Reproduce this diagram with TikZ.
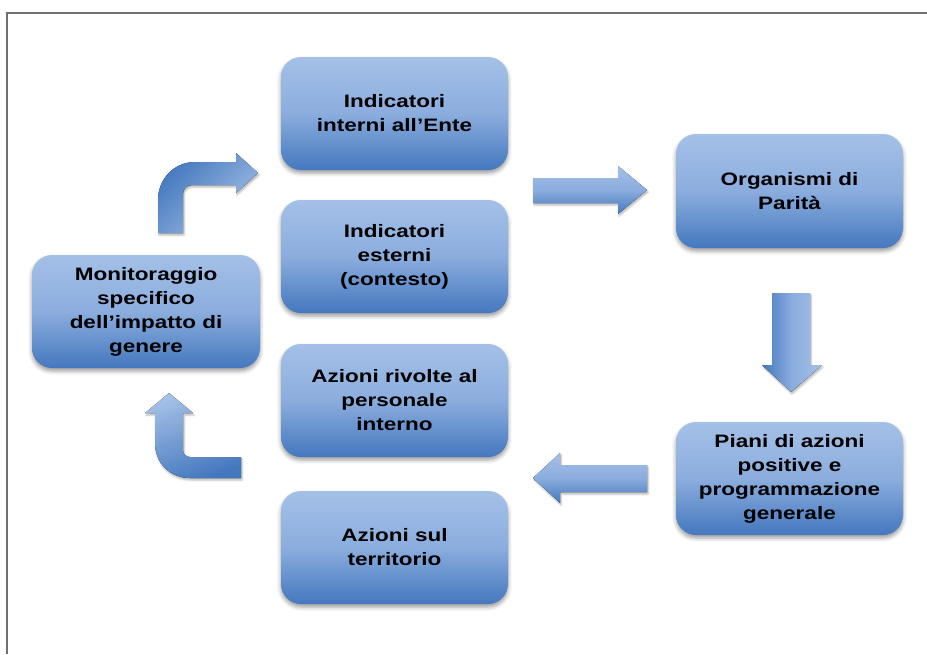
\documentclass[tikz,border=0pt]{standalone}
\usepackage{fontspec}
\newfontfamily\boxfont{Liberation Sans}[FakeStretch=1.25]
\usetikzlibrary{shadows.blur}
\definecolor{bluetop}{HTML}{A4C0E7}
\definecolor{bluemid}{HTML}{8BADDE}
\definecolor{bluebot}{HTML}{4478BE}
\definecolor{framegray}{HTML}{707070}
\begin{document}
\begin{tikzpicture}[x=1pt,y=-1pt,
  boxnode/.style={rectangle, rounded corners=20pt, minimum width=227pt, minimum height=113pt,
    align=center, top color=bluetop, bottom color=bluebot, middle color=bluemid,
    font=\boxfont\bfseries\fontsize{18}{24}\selectfont, text=black,
    blur shadow={shadow xshift=0pt, shadow yshift=-3pt, shadow blur radius=4pt, shadow opacity=40}},
  arrowshape/.style={draw=none,
    blur shadow={shadow xshift=1pt, shadow yshift=-2pt, shadow blur radius=2pt, shadow opacity=30}}]
\useasboundingbox (0,0) rectangle (927,654);
% frame
\draw[framegray, line width=1.5pt] (7,654) -- (7,13) -- (927,13);
% boxes
\node[boxnode] (intern) at (394.5,113.5) {Indicatori\\interni all’Ente};
\node[boxnode] (estern) at (394.5,256.5) {Indicatori\\esterni\\(contesto)};
\node[boxnode] (rivolte) at (394.5,400.5) {Azioni rivolte al\\personale\\interno};
\node[boxnode] (territ) at (394.5,547.5) {Azioni sul\\territorio};
\node[boxnode, minimum width=228pt] (monit) at (146,311.5) {Monitoraggio\\specifico\\dell’impatto di\\genere};
\node[boxnode, minimum height=114pt] (organ) at (789.5,191) {Organismi di\\Parità};
\node[boxnode] (piani) at (789.5,478.5) {Piani di azioni\\positive e\\programmazione\\generale};
% right arrow
\fill[arrowshape, top color=bluetop, bottom color=bluebot, middle color=bluemid]
  (533,178) -- (618,178) -- (618,166) -- (647,190) -- (618,214) -- (618,203) -- (533,203) -- cycle;
% down arrow
\fill[arrowshape, left color=bluebot, right color=bluetop, middle color=bluemid]
  (772,293) -- (810,293) -- (810,365) -- (822,365) -- (791,392) -- (762,365) -- (772,365) -- cycle;
% left arrow
\fill[arrowshape, top color=bluetop, bottom color=bluebot, middle color=bluemid]
  (647,465) -- (560,465) -- (560,453) -- (533,478) -- (560,503) -- (560,492) -- (647,492) -- cycle;
% top bent arrow
\fill[arrowshape, left color=bluebot, right color=bluetop, shading angle=45]
  (158,233) -- (158,200) .. controls (158,179) and (174,162) .. (195,162)
  -- (236,162) -- (236,153) -- (258,173) -- (236,193) -- (236,185) -- (192,185)
  .. controls (187,185) and (183,189) .. (183,194) -- (183,233) -- cycle;
% bottom bent arrow
\fill[arrowshape, left color=bluetop, right color=bluebot, shading angle=20]
  (169,393) -- (193,413) -- (183,413) -- (183,450) .. controls (183,454) and (186,457) .. (190,457)
  -- (241,457) -- (241,478) -- (190,478) .. controls (170,478) and (155,463) .. (155,443)
  -- (155,413) -- (145,413) -- cycle;
\end{tikzpicture}
\end{document}
